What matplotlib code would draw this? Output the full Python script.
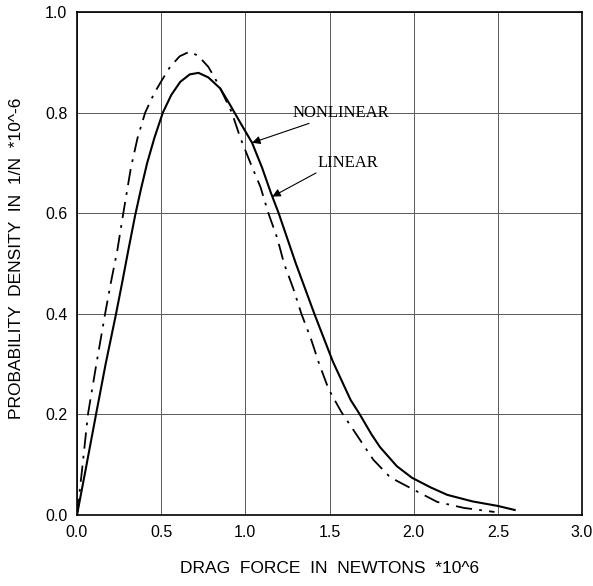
import matplotlib.pyplot as plt

# nonlinear (solid) curve
nl_x = [0.0, 0.05, 0.113, 0.17, 0.232, 0.27, 0.304, 0.345, 0.38, 0.417, 0.46, 0.51, 0.56,
        0.613, 0.67, 0.722, 0.78, 0.851, 0.91, 0.97, 1.04, 1.10, 1.149, 1.198, 1.30, 1.41,
        1.52, 1.625, 1.68, 1.75, 1.80, 1.90, 1.99, 2.10, 2.20, 2.35, 2.50, 2.60]
nl_y = [0.0, 0.088, 0.20, 0.30, 0.40, 0.465, 0.525, 0.595, 0.648, 0.70, 0.75, 0.80, 0.835,
        0.861, 0.876, 0.879, 0.870, 0.848, 0.815, 0.78, 0.74, 0.69, 0.643, 0.60, 0.50, 0.40,
        0.305, 0.229, 0.20, 0.16, 0.135, 0.097, 0.074, 0.055, 0.040, 0.027, 0.018, 0.010]

# linear (dash-dot) curve
li_x = [0.0, 0.03, 0.065, 0.115, 0.167, 0.20, 0.24, 0.275, 0.32, 0.36, 0.405, 0.458, 0.50,
        0.553, 0.61, 0.668, 0.72, 0.78, 0.83, 0.87, 0.92, 0.97, 1.03, 1.09, 1.137, 1.19,
        1.23, 1.285, 1.333, 1.39, 1.437, 1.495, 1.57, 1.67, 1.76, 1.86, 1.99, 2.14, 2.30, 2.48]
li_y = [0.0, 0.09, 0.20, 0.30, 0.40, 0.46, 0.527, 0.60, 0.69, 0.75, 0.80, 0.838, 0.862,
        0.891, 0.912, 0.921, 0.913, 0.891, 0.862, 0.835, 0.80, 0.75, 0.70, 0.652, 0.60, 0.55,
        0.50, 0.45, 0.40, 0.35, 0.302, 0.25, 0.205, 0.155, 0.11, 0.075, 0.052, 0.026, 0.014, 0.006]

x_ticks = [0.0, 0.5, 1.0, 1.5, 2.0, 2.5, 3.0]
y_ticks = [0.0, 0.2, 0.4, 0.6, 0.8, 1.0]

fig = plt.figure(figsize=(5.93, 5.86), dpi=100)
ax = fig.add_axes([77 / 593, 71 / 586, 505 / 593, 503 / 586])

ax.plot(nl_x, nl_y, color="black", lw=1.5)
ax.plot(li_x, li_y, color="black", lw=1.3, linestyle=(0, (9, 4, 1.5, 4)))

ax.set_xlim(0, 3.0)
ax.set_ylim(0, 1.0)
ax.set_xticks(x_ticks)
ax.set_yticks(y_ticks)
ax.set_xticklabels([f"{t:.1f}" for t in x_ticks], fontfamily="Liberation Sans", fontsize=11.5)
ax.set_yticklabels([f"{t:.1f}" for t in y_ticks], fontfamily="Liberation Sans", fontsize=11.5)
ax.tick_params(length=0, pad=7)
ax.grid(True, color="0.35", lw=0.7)
for s in ax.spines.values():
    s.set_linewidth(1.2)

ax.set_xlabel("DRAG  FORCE  IN  NEWTONS  *10^6", fontfamily="Liberation Sans",
              fontsize=12.5, labelpad=15)
ax.set_ylabel("PROBABILITY  DENSITY  IN  1/N  *10^-6", fontfamily="Liberation Sans",
              fontsize=12.5)
ax.yaxis.set_label_coords(-0.105, 0.51)

arrow = dict(arrowstyle="-|>", color="black", lw=0.8, mutation_scale=12, shrinkA=0, shrinkB=0)
ax.annotate("NONLINEAR", xy=(1.04, 0.74), xytext=(1.28, 0.80), fontfamily="Liberation Serif",
            fontsize=12, va="center", ha="left", arrowprops=arrow)
ax.text(1.43, 0.70, "LINEAR", fontfamily="Liberation Serif", fontsize=12,
        va="center", ha="left")
ax.annotate("", xy=(1.16, 0.633), xytext=(1.42, 0.68), arrowprops=arrow)

fig.savefig("out.png", dpi=100)
